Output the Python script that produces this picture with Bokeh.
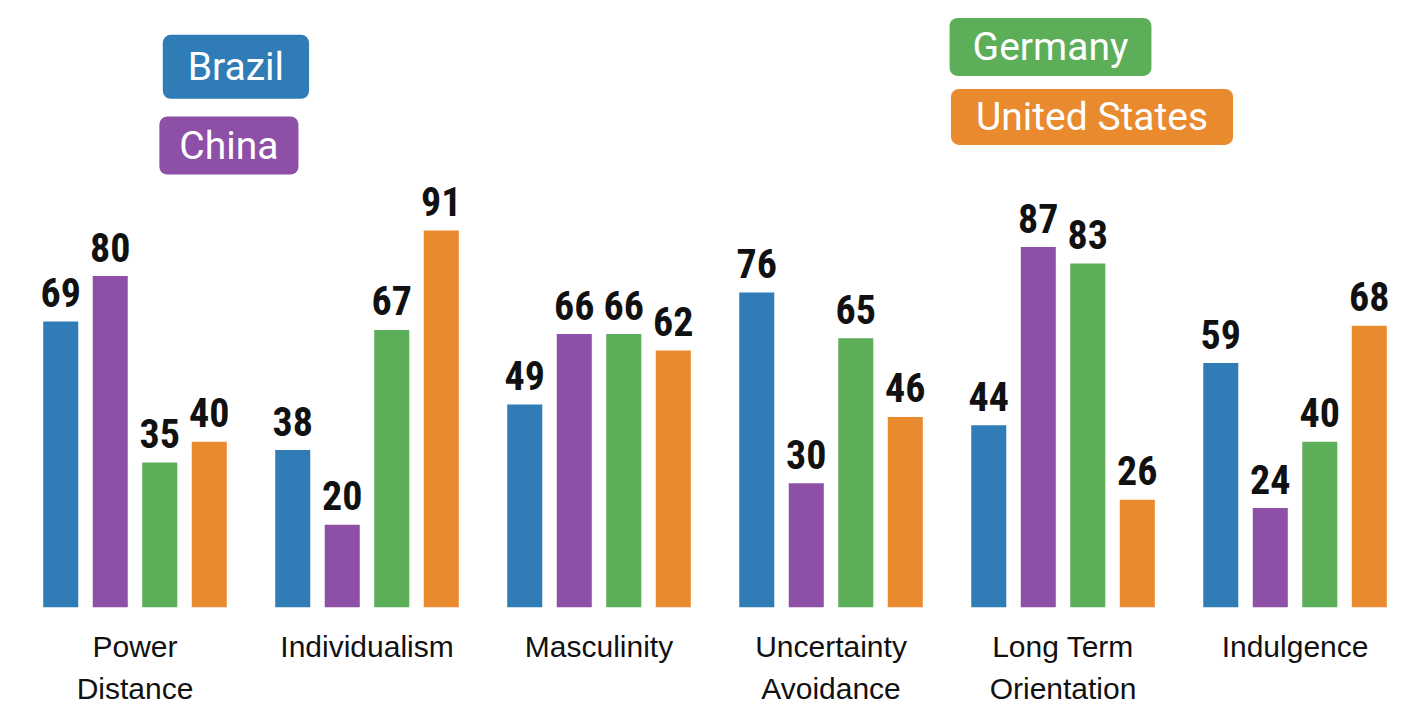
from bokeh.plotting import figure
from bokeh.models import ColumnDataSource, Range1d, FixedTicker, Label
from bokeh.core.properties import value
from bokeh.embed import file_html
from bokeh.resources import INLINE

# Hofstede cultural dimension scores
dimensions = ["Power\nDistance", "Individualism", "Masculinity",
              "Uncertainty\nAvoidance", "Long Term\nOrientation", "Indulgence"]
countries = ["Brazil", "China", "Germany", "United States"]
brazil = [69, 38, 49, 76, 44, 59]
china = [80, 20, 66, 30, 87, 24]
germany = [35, 67, 66, 65, 83, 40]
united_states = [40, 91, 62, 46, 26, 68]

series = [brazil, china, germany, united_states]
colors = ["#2F7CB7", "#8E4FA7", "#5CAE59", "#EA8A2F"]

PITCH = 0.2134   # spacing between bars inside a group (group spacing = 1)
BAR_W = 0.151

p = figure(width=1424, height=720, output_backend="svg", toolbar_location=None,
           x_range=Range1d(-0.5797, 5.558), y_range=Range1d(0, 146.5),
           min_border_left=0, min_border_right=0, min_border_top=0,
           min_border_bottom=113, outline_line_color=None,
           background_fill_color="white", border_fill_color="white")

VALUE_FONT = "Roboto Condensed, DejaVu Sans Condensed, Noto Sans Condensed, Roboto"

for k, (vals, color) in enumerate(zip(series, colors)):
    xs = [i + (k - 1.5) * PITCH for i in range(len(dimensions))]
    src = ColumnDataSource(dict(x=xs, top=vals, txt=[str(v) for v in vals]))
    p.vbar(x="x", top="top", bottom=0, width=BAR_W, source=src,
           fill_color=color, line_color=None)
    p.text(x="x", y="top", text="txt", source=src, text_align="center",
           text_baseline="alphabetic", y_offset=-29,
           text_font=value(VALUE_FONT), text_font_style="bold",
           text_font_size="40px", text_color="#111111")

# legend chips: (name, colour, x, y, horizontal pad, vertical pad)
chips = [(countries[0], colors[0], 0.435, 130.5, 25, 9),
         (countries[1], colors[1], 0.4048, 111.5, 20, 6),
         (countries[2], colors[2], 3.946, 135.3, 23, 6),
         (countries[3], colors[3], 4.125, 118.4, 25, 5)]
for name, color, cx, cy, ph, pv in chips:
    p.add_layout(Label(x=cx, y=cy, text=name, text_align="center",
                       text_baseline="middle", text_font="Roboto",
                       text_font_size="39px", text_color="white",
                       background_fill_color=color, border_radius=8,
                       padding=dict(left=ph, right=ph, top=pv, bottom=pv)))

p.yaxis.visible = False
p.grid.visible = False
ax = p.xaxis[0]
ax.ticker = FixedTicker(ticks=list(range(len(dimensions))))
ax.major_label_overrides = {i: d for i, d in enumerate(dimensions)}
ax.axis_line_color = None
ax.major_tick_line_color = None
ax.minor_tick_line_color = None
ax.major_label_standoff = 16
ax.major_label_text_font = "Liberation Sans"
ax.major_label_text_font_size = "30px"
ax.major_label_text_color = "#111111"
ax.major_label_text_line_height = 1.3

open("out.html", "w").write(file_html(p, INLINE))
